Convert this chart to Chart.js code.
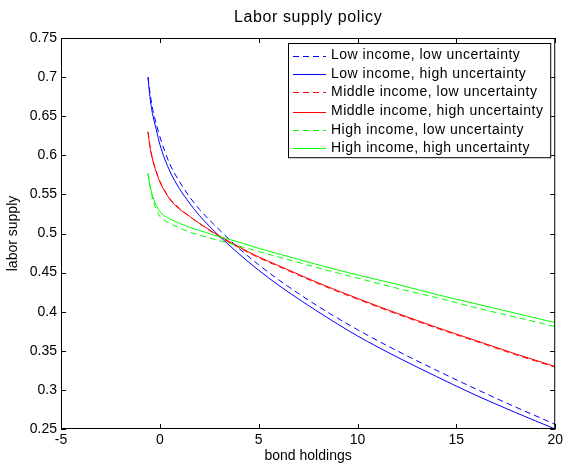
<!DOCTYPE html>
<html>
<head>
<meta charset="utf-8">
<script src="https://cdn.jsdelivr.net/npm/chart.js"></script>
<style>
  html, body { margin: 0; padding: 0; background: #fff; }
  #wrap { width: 566px; height: 464px; }
</style>
</head>
<body>
<div id="wrap"><canvas id="laborChart" width="566" height="464"></canvas></div>
<script>
// values
const bondHoldings = [-0.6, -0.5, -0.4, -0.3, -0.2, 0, 0.5, 1, 1.5, 2, 3, 4, 5, 6, 8, 10, 12, 14, 16, 18, 20];

const lowIncomeLowUnc   = [0.700, 0.680, 0.664, 0.652, 0.642, 0.624, 0.589, 0.566, 0.547, 0.531, 0.505, 0.481, 0.460, 0.441, 0.407, 0.377, 0.350, 0.325, 0.301, 0.278, 0.256];
const lowIncomeHighUnc  = [0.700, 0.675, 0.657, 0.645, 0.635, 0.614, 0.580, 0.557, 0.539, 0.523, 0.497, 0.474, 0.453, 0.434, 0.400, 0.369, 0.342, 0.317, 0.293, 0.271, 0.250];
const midIncomeLowUnc   = [0.630, 0.612, 0.599, 0.589, 0.581, 0.567, 0.545, 0.532, 0.522, 0.513, 0.496, 0.482, 0.469, 0.458, 0.436, 0.416, 0.397, 0.379, 0.362, 0.345, 0.329];
const midIncomeHighUnc  = [0.630, 0.611, 0.598, 0.588, 0.580, 0.566, 0.544, 0.531, 0.522, 0.513, 0.497, 0.483, 0.470, 0.459, 0.437, 0.417, 0.398, 0.380, 0.363, 0.346, 0.330];
const highIncomeLowUnc  = [0.577, 0.560, 0.548, 0.539, 0.532, 0.522, 0.513, 0.507, 0.502, 0.498, 0.491, 0.484, 0.477, 0.470, 0.456, 0.443, 0.430, 0.418, 0.405, 0.393, 0.381];
const highIncomeHighUnc = [0.577, 0.562, 0.551, 0.543, 0.537, 0.528, 0.519, 0.513, 0.508, 0.504, 0.496, 0.489, 0.481, 0.474, 0.460, 0.447, 0.435, 0.422, 0.410, 0.398, 0.386];

const seriesLabels = [
    'Low income, low uncertainty',
    'Low income, high uncertainty',
    'Middle income, low uncertainty',
    'Middle income, high uncertainty',
    'High income, low uncertainty',
    'High income, high uncertainty'
];
const seriesValues = [lowIncomeLowUnc, lowIncomeHighUnc, midIncomeLowUnc, midIncomeHighUnc, highIncomeLowUnc, highIncomeHighUnc];
const seriesColors = ['#0000ff', '#0000ff', '#ff0000', '#ff0000', '#00ff00', '#00ff00'];
const seriesDashed = [true, false, true, false, true, false];

const xTicksRange = { min: -5, max: 20, step: 5 };
const yTicksRange = { min: 0.25, max: 0.75, step: 0.05 };

const FONT = '"Liberation Sans", Arial, sans-serif';
const DASH = [6, 4];

const datasets = seriesValues.map((vals, i) => ({
    label: seriesLabels[i],
    data: bondHoldings.map((x, j) => ({ x: x, y: vals[j] })),
    borderColor: seriesColors[i],
    backgroundColor: seriesColors[i],
    borderWidth: 1,
    borderDash: seriesDashed[i] ? DASH : [],
    pointRadius: 0,
    fill: false,
    cubicInterpolationMode: 'monotone',
    order: seriesValues.length - i
}));

// box, inward ticks, title and legend in matlab style
const matlabFrame = {
    id: 'matlabFrame',
    afterDraw(chart) {
        const ctx = chart.ctx;
        const a = chart.chartArea;
        const xs = chart.scales.x, ys = chart.scales.y;
        ctx.save();
        ctx.strokeStyle = '#000';
        ctx.lineWidth = 1;
        ctx.setLineDash([]);
        ctx.strokeRect(a.left + 0.5, a.top + 0.5, a.right - a.left - 1, a.bottom - a.top - 1);
        const tl = 5;
        ctx.beginPath();
        xs.ticks.forEach(t => {
            const px = Math.round(xs.getPixelForValue(t.value)) + 0.5;
            ctx.moveTo(px, a.bottom); ctx.lineTo(px, a.bottom - tl);
            ctx.moveTo(px, a.top); ctx.lineTo(px, a.top + tl);
        });
        ys.ticks.forEach(t => {
            const py = Math.round(ys.getPixelForValue(t.value)) + 0.5;
            ctx.moveTo(a.left, py); ctx.lineTo(a.left + tl, py);
            ctx.moveTo(a.right, py); ctx.lineTo(a.right - tl, py);
        });
        ctx.stroke();

        // title
        ctx.fillStyle = '#000';
        ctx.font = '16px ' + FONT;
        ctx.textAlign = 'center';
        ctx.textBaseline = 'middle';
        if ('letterSpacing' in ctx) ctx.letterSpacing = '0.6px';
        ctx.fillText('Labor supply policy', (a.left + a.right) / 2, 18);

        // legend
        ctx.font = '14px ' + FONT;
        if ('letterSpacing' in ctx) ctx.letterSpacing = '0.5px';
        let textW = 0;
        seriesLabels.forEach(s => { textW = Math.max(textW, ctx.measureText(s).width); });
        const rowH = 18.7;
        const boxR = a.right - 4;
        const boxL = Math.round(boxR - (5 + 33 + 5 + textW + 8));
        const boxT = a.top + 5;
        const boxH = seriesLabels.length * rowH + 3;
        ctx.fillStyle = '#fff';
        ctx.fillRect(boxL, boxT, boxR - boxL, boxH);
        ctx.strokeStyle = '#000';
        ctx.strokeRect(boxL + 0.5, boxT + 0.5, boxR - boxL - 1, boxH - 1);
        ctx.textAlign = 'left';
        seriesLabels.forEach((label, i) => {
            const cy = boxT + 12 + i * rowH;
            const ly = 2 * Math.round(cy / 2) + 0.5;
            ctx.save();
            ctx.lineWidth = 1;
            ctx.strokeStyle = seriesColors[i];
            ctx.setLineDash(seriesDashed[i] ? DASH : []);
            ctx.beginPath();
            ctx.moveTo(boxL + 5, ly);
            ctx.lineTo(boxL + 38, ly);
            ctx.stroke();
            ctx.restore();
            ctx.fillStyle = '#000';
            ctx.fillText(label, boxL + 43, cy);
        });
        ctx.restore();
    }
};

new Chart(document.getElementById('laborChart'), {
    type: 'line',
    data: { datasets: datasets },
    options: {
        responsive: false,
        animation: false,
        layout: { padding: { top: 38, right: 10, left: 0, bottom: 0 } },
        plugins: {
            legend: { display: false },
            title: { display: false },
            tooltip: { enabled: false }
        },
        scales: {
            x: {
                type: 'linear',
                min: xTicksRange.min,
                max: xTicksRange.max,
                grid: { display: false, drawTicks: false },
                border: { display: false },
                ticks: {
                    stepSize: xTicksRange.step,
                    autoSkip: false,
                    maxRotation: 0,
                    padding: 3,
                    color: '#000',
                    font: { family: FONT, size: 14 }
                },
                title: {
                    display: true,
                    text: 'bond holdings',
                    color: '#000',
                    font: { family: FONT, size: 14 },
                    padding: { top: 0, bottom: -1 }
                },
                afterFit(scale) { scale.height = 35; }
            },
            y: {
                type: 'linear',
                min: yTicksRange.min,
                max: yTicksRange.max,
                grid: { display: false, drawTicks: false },
                border: { display: false },
                ticks: {
                    stepSize: yTicksRange.step,
                    autoSkip: false,
                    padding: 4,
                    color: '#000',
                    font: { family: FONT, size: 14 },
                    callback: v => String(Number(v.toFixed(2)))
                },
                title: {
                    display: true,
                    text: 'labor supply',
                    color: '#000',
                    font: { family: FONT, size: 14 },
                    padding: { top: 5, bottom: 0 }
                },
                afterFit(scale) { scale.width = 61; }
            }
        }
    },
    plugins: [matlabFrame]
});
</script>
</body>
</html>
